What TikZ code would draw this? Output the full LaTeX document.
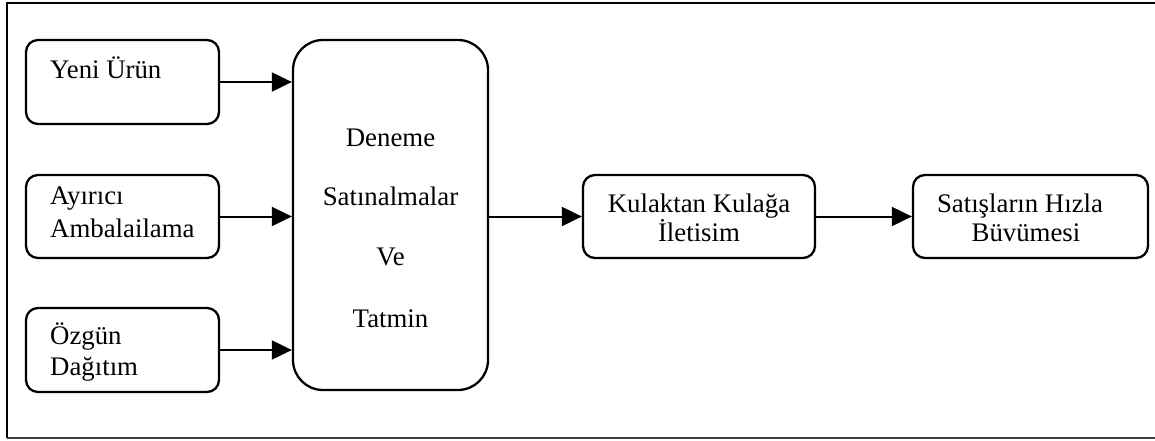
\documentclass[tikz,border=0pt]{standalone}
\usepackage{fontspec}
\setmainfont{Liberation Serif}
\usetikzlibrary{arrows.meta}
\begin{document}
\begin{tikzpicture}[x=1pt,y=-1pt,
  box/.style={draw,line width=2.3pt,rounded corners=12pt,inner sep=0pt},
  bigbox/.style={draw,line width=2.3pt,rounded corners=30pt,inner sep=0pt},
  txt/.style={inner sep=0pt,font=\fontsize{26.8}{30}\selectfont},
  arr/.style={line width=2pt,-{Triangle[length=20pt,width=19pt]}}]
\useasboundingbox (0,0) rectangle (1155,441);
% frame
\coordinate (f1) at (1155,3);
\coordinate (f2) at (7,3);
\coordinate (f3) at (7,438);
\coordinate (f4) at (1155,438);
\draw[line width=2pt] (f1) -- (f2) -- (f3);
\draw[line width=1.5pt,black!75] (f3) -- (f4);
% boxes
\node[box,minimum width=193pt,minimum height=84pt] (b1) at (122.5,82) {};
\node[box,minimum width=193pt,minimum height=83pt] (b2) at (122.5,216.5) {};
\node[box,minimum width=193pt,minimum height=84pt] (b3) at (122.5,350) {};
\node[bigbox,minimum width=195pt,minimum height=350pt] (big) at (390.5,215) {};
\node[box,minimum width=232pt,minimum height=83pt] (b4) at (699,216.5) {};
\node[box,minimum width=235pt,minimum height=83pt] (b5) at (1030.5,216.5) {};
% texts
\node[txt,anchor=base west] (t1) at (50,79) {Yeni Ürün};
\node[txt,anchor=base west] (t2a) at (50,204) {Ayırıcı};
\node[txt,anchor=base west] (t2b) at (50,237) {Ambalailama};
\node[txt,anchor=base west] (t3a) at (50,344) {Özgün};
\node[txt,anchor=base west] (t3b) at (50,375) {Dağıtım};
\node[txt,anchor=base] (tb1) at (390.5,146) {Deneme};
\node[txt,anchor=base] (tb2) at (390.5,205) {Satınalmalar};
\node[txt,anchor=base] (tb3) at (390.5,265) {Ve};
\node[txt,anchor=base] (tb4) at (390.5,327) {Tatmin};
\node[txt,anchor=base] (t4a) at (699,212) {Kulaktan Kulağa};
\node[txt,anchor=base] (t4b) at (699,241) {İletisim};
\node[txt,anchor=base] (t5a) at (1020,212) {Satışların Hızla};
\node[txt,anchor=base] (t5b) at (1026,241) {Büvümesi};
% arrows
\draw[arr] (b1.east) -- (b1.east -| big.west);
\draw[arr] (b2.east) -- (b2.east -| big.west);
\draw[arr] (b3.east) -- (b3.east -| big.west);
\draw[arr] (big.east |- b4.west) -- (b4.west);
\draw[arr] (b4.east) -- (b5.west);
\end{tikzpicture}
\end{document}
